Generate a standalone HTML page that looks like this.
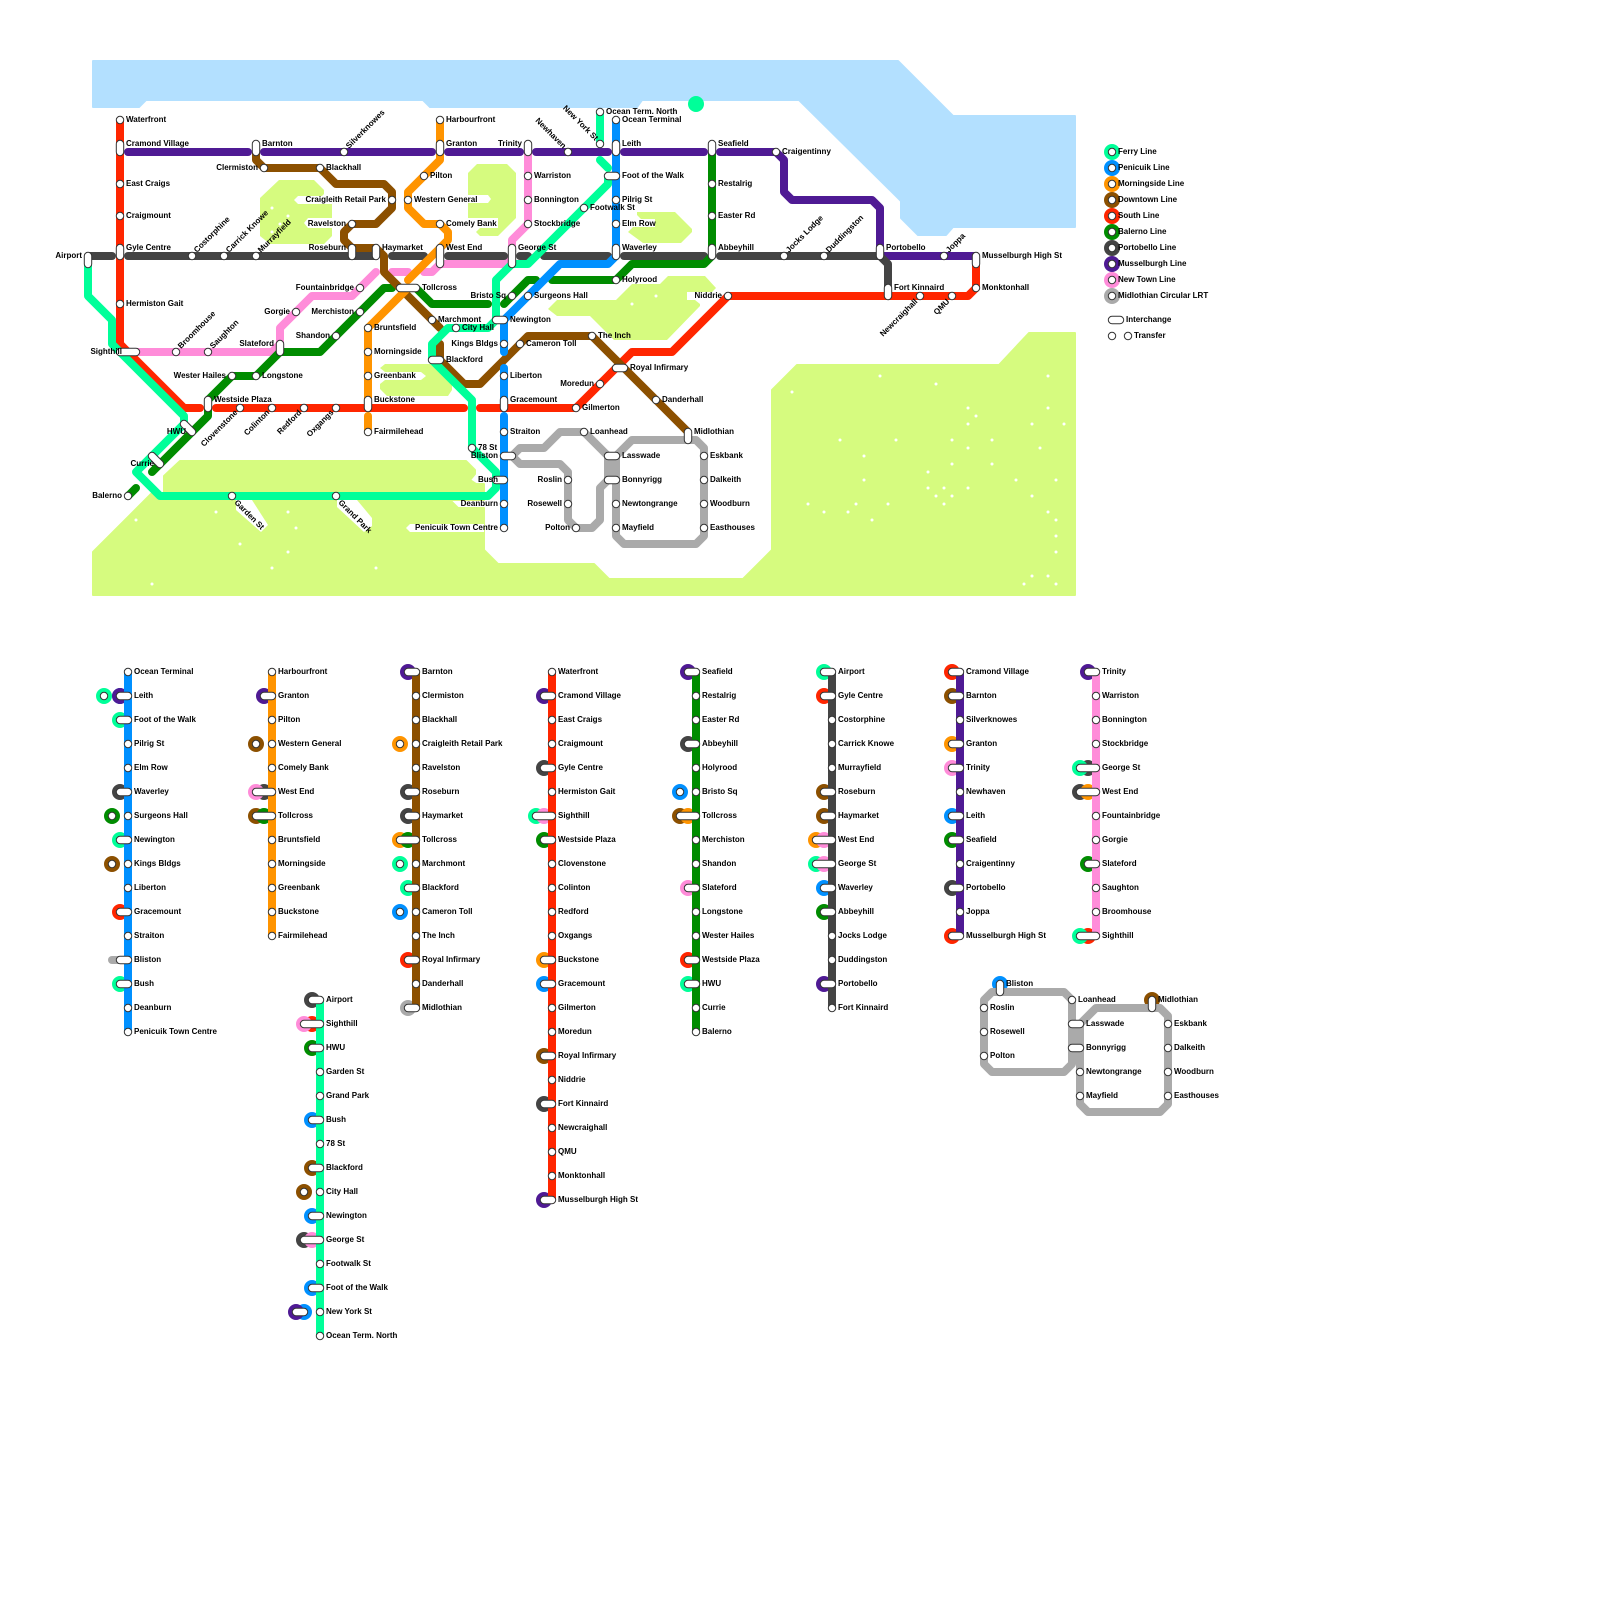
<!DOCTYPE html>
<html><head><meta charset="utf-8"><title>Metro map</title>
<style>
html,body{margin:0;padding:0;background:#fff}
svg{display:block}
text{font:bold 8px "Liberation Sans",Arial,sans-serif;fill:#000}
.l path{fill:none;stroke-width:8;stroke-linecap:round;stroke-linejoin:round}
.f{stroke:#00ff99}.b{stroke:#0090ff}.o{stroke:#ff9400}.d{stroke:#8c5000}.r{stroke:#ff2600}
.g{stroke:#008c00}.k{stroke:#444}.u{stroke:#4f1a94}.n{stroke:#ff8cd9}.m{stroke:#aaa}
.rg path{fill:none;stroke-width:16;stroke-linecap:round}
.s1{fill:none;stroke:#333;stroke-width:8.4;stroke-linecap:round}
.s2{fill:none;stroke:#fff;stroke-width:6.4;stroke-linecap:round}
.e{text-anchor:end}
</style></head><body>
<svg width="1600" height="1600" viewBox="0 0 1600 1600" xmlns="http://www.w3.org/2000/svg">
<rect width="1600" height="1600" fill="#fff"/>
<!-- water -->
<path fill="#b3e0ff" stroke="#b3e0ff" stroke-width="2" stroke-linejoin="round" d="M93 61H898L953 116H1075V227H953L946 235H918L901 218V201L799 100H642L637 107H430L423 100H146L139 107H93Z"/>
<circle cx="696" cy="104" r="8" fill="#00ff99"/>
<!-- land -->
<g fill="#d6fb7f">
<path stroke="#d6fb7f" stroke-width="2" stroke-linejoin="round" d="M93 552L152 493H164V476L180 461H466L475 470V474L470 480L476 484H484V500H450L458 508H484V550L498 564H594L609 579H743L772 550V390L797 365H999L1029 333H1075V595H93Z"/>
<path d="M260 198L279 180H314L324 190V194L322 196H298L294 200L298 204H332V218H308L304 223L308 228H332V236L324 244H270L260 236Z"/>
<path d="M468 173L477 164H507L516 173V218L498 236H480L476 232L480 228H498V218H468V203H488L491 199L488 195H468Z"/>
<path d="M637 212H675L692 229V232L681 243H643L628 232L633 227H655V219H641L637 215Z"/>
<path d="M548 309L557 300H616L632 284H660L668 276H705L716 288L712 292H687V300H695L700 304V306L667 340H614L590 316H557Z"/>
<path d="M380 368L385 364H432L452 384V390L448 396H387L380 389V384L385 380H421L426 376L421 372H385Z"/>
</g>
<g fill="#fff">
<path d="M236 500V510L261 532L268 525L252 500Z"/>
<path d="M337 500V507L364 532L372 526V518L357 500Z"/>
<path d="M406 528L410 524H484V532H410Z"/>
</g>
<path fill="none" stroke="#fff" stroke-width="3" stroke-linecap="round" d="M136 520h.01M216 512h.01M240 544h.01M288 512h.01M296 528h.01M288 552h.01M272 568h.01M376 568h.01M152 584h.01M880 376h.01M936 384h.01M1048 376h.01M792 392h.01M968 408h.01M976 416h.01M968 424h.01M1048 408h.01M1032 424h.01M1064 424h.01M840 440h.01M896 440h.01M952 440h.01M992 440h.01M968 448h.01M1040 448h.01M864 456h.01M952 464h.01M992 464h.01M928 472h.01M864 480h.01M1016 480h.01M1056 480h.01M928 488h.01M944 488h.01M968 488h.01M936 496h.01M952 496h.01M1032 496h.01M808 504h.01M856 504h.01M888 504h.01M944 504h.01M824 512h.01M848 512h.01M1048 512h.01M872 520h.01M1056 520h.01M1056 536h.01M1056 552h.01M1032 576h.01M1048 576h.01M1024 584h.01M1056 584h.01M272 208h.01M288 216h.01M280 224h.01M272 232h.01M632 304h.01M656 296h.01"/>
<!-- main lines -->
<g class="l">
<path class="m" d="M512 456L520 448H544L560 432H584L608 456V480L600 488V520L592 528H576L568 520V472L560 464H520L512 456M616 456L632 440H696L704 448V536L696 544H624L616 536V456"/>
<path class="n" d="M528 152V224L512 240V256L504 264H440L432 272H424M392 272H408M376 272L352 296H312L280 328V344L272 352H128"/>
<path class="u" d="M128 152H248M264 152H432M448 152H520M536 152H608M624 152H704M720 152H776L784 160V192L792 200H872L880 208V256H976"/>
<path class="k" d="M88 256H112M128 256H376M392 256H424M448 256H504M520 256H528M544 256H608M624 256H704M720 256H880L888 264V288"/>
<path class="g" d="M712 152V256L704 264H632L616 280H552M536 280H528L504 304M488 304H432L416 288M392 288H384L360 312L320 352H280L256 376H232L208 400M208 408V416L152 472M136 488L128 496"/>
<path class="r" d="M120 120V344L184 408H200M216 408H464M480 408H576L632 352H672L728 296H968L976 288V256"/>
<path class="d" d="M256 152V160L264 168H320L336 184H384L392 192V208L376 224H352L344 232V240L352 248H376L384 256V272L440 328M440 344V360L464 384H480L528 336H592L688 432"/>
<path class="o" d="M440 120V160L408 192V208L424 224H440L448 232V240L408 280M408 288L368 328V408M368 416V432"/>
<path class="b" d="M616 120V256L608 264H560L504 320V352M504 368V408M504 416V528"/>
<path class="f" d="M88 264V296L112 320V344L184 416V424L136 472L160 496H488L496 488V472L472 448V400L432 360V344L448 328H488L496 320V280L512 264H528L608 184V176M608 168L600 160M600 112V144"/>
</g>
<!-- main stations -->
<path class="s1" d="M120 120h.01M120 144v8M120 184h.01M120 216h.01M120 248v8M120 304h.01M88 256v8M256 144v8M264 168h.01M320 168h.01M344 152h.01M392 200h.01M352 224h.01M352 248v8M376 248v8M192 256h.01M224 256h.01M256 256h.01M360 288h.01M296 312h.01M360 312h.01M336 336h.01M280 344v8M176 352h.01M208 352h.01M120 352h16M232 376h.01M256 376h.01M208 400v8M240 408h.01M272 408h.01M304 408h.01M336 408h.01M184 424l8 8M152 456l8 8M128 496h.01M232 496h.01M336 496h.01M440 120h.01M440 144v8M424 176h.01M408 200h.01M440 224h.01M440 248v16M528 144v8M528 176h.01M528 200h.01M528 224h.01M512 248v16M400 288h16M512 296h.01M528 296h.01M432 320h.01M456 328h.01M496 320h8M504 344h.01M520 344h.01M368 328h.01M368 352h.01M368 376h.01M368 400v8M368 432h.01M432 360h8M504 376h.01M504 400v8M504 432h.01M472 448h.01M504 456h8M496 480h8M504 504h.01M504 528h.01M576 408h.01M600 384h.01M616 368h8M592 336h.01M656 400h.01M584 432h.01M608 456h8M608 480h8M616 504h.01M616 528h.01M568 480h.01M568 504h.01M576 528h.01M688 432v8M704 456h.01M704 480h.01M704 504h.01M704 528h.01M568 152h.01M600 144h.01M600 112h.01M616 120h.01M616 144v8M608 176h8M616 200h.01M616 224h.01M616 248v8M584 208h.01M616 280h.01M728 296h.01M712 144v8M712 184h.01M712 216h.01M712 248v8M776 152h.01M784 256h.01M824 256h.01M880 248v8M944 256h.01M976 256v8M976 288h.01M888 288v8M920 296h.01M952 296h.01"/>
<path class="s2" d="M120 120h.01M120 144v8M120 184h.01M120 216h.01M120 248v8M120 304h.01M88 256v8M256 144v8M264 168h.01M320 168h.01M344 152h.01M392 200h.01M352 224h.01M352 248v8M376 248v8M192 256h.01M224 256h.01M256 256h.01M360 288h.01M296 312h.01M360 312h.01M336 336h.01M280 344v8M176 352h.01M208 352h.01M120 352h16M232 376h.01M256 376h.01M208 400v8M240 408h.01M272 408h.01M304 408h.01M336 408h.01M184 424l8 8M152 456l8 8M128 496h.01M232 496h.01M336 496h.01M440 120h.01M440 144v8M424 176h.01M408 200h.01M440 224h.01M440 248v16M528 144v8M528 176h.01M528 200h.01M528 224h.01M512 248v16M400 288h16M512 296h.01M528 296h.01M432 320h.01M456 328h.01M496 320h8M504 344h.01M520 344h.01M368 328h.01M368 352h.01M368 376h.01M368 400v8M368 432h.01M432 360h8M504 376h.01M504 400v8M504 432h.01M472 448h.01M504 456h8M496 480h8M504 504h.01M504 528h.01M576 408h.01M600 384h.01M616 368h8M592 336h.01M656 400h.01M584 432h.01M608 456h8M608 480h8M616 504h.01M616 528h.01M568 480h.01M568 504h.01M576 528h.01M688 432v8M704 456h.01M704 480h.01M704 504h.01M704 528h.01M568 152h.01M600 144h.01M600 112h.01M616 120h.01M616 144v8M608 176h8M616 200h.01M616 224h.01M616 248v8M584 208h.01M616 280h.01M728 296h.01M712 144v8M712 184h.01M712 216h.01M712 248v8M776 152h.01M784 256h.01M824 256h.01M880 248v8M944 256h.01M976 256v8M976 288h.01M888 288v8M920 296h.01M952 296h.01"/>
<!-- main labels: right -->
<g>
<text x="126" y="122">Waterfront</text><text x="126" y="146">Cramond Village</text><text x="126" y="186">East Craigs</text><text x="126" y="218">Craigmount</text><text x="126" y="250">Gyle Centre</text><text x="126" y="306">Hermiston Gait</text>
<text x="262" y="146">Barnton</text><text x="326" y="170">Blackhall</text><text x="382" y="250">Haymarket</text><text x="262" y="378">Longstone</text><text x="214" y="402">Westside Plaza</text>
<text x="446" y="122">Harbourfront</text><text x="446" y="146">Granton</text><text x="430" y="178">Pilton</text><text x="414" y="202">Western General</text><text x="446" y="226">Comely Bank</text><text x="446" y="250">West End</text>
<text x="534" y="178">Warriston</text><text x="534" y="202">Bonnington</text><text x="534" y="226">Stockbridge</text><text x="518" y="250">George St</text><text x="422" y="290">Tollcross</text><text x="534" y="298">Surgeons Hall</text><text x="438" y="322">Marchmont</text><text x="462" y="330">City Hall</text><text x="510" y="322">Newington</text><text x="526" y="346">Cameron Toll</text>
<text x="374" y="330">Bruntsfield</text><text x="374" y="354">Morningside</text><text x="374" y="378">Greenbank</text><text x="374" y="402">Buckstone</text><text x="374" y="434">Fairmilehead</text><text x="446" y="362">Blackford</text>
<text x="510" y="378">Liberton</text><text x="510" y="402">Gracemount</text><text x="510" y="434">Straiton</text><text x="478" y="450">78 St</text>
<text x="582" y="410">Gilmerton</text><text x="630" y="370">Royal Infirmary</text><text x="598" y="338">The Inch</text><text x="662" y="402">Danderhall</text><text x="590" y="434">Loanhead</text><text x="622" y="458">Lasswade</text><text x="622" y="482">Bonnyrigg</text><text x="622" y="506">Newtongrange</text><text x="622" y="530">Mayfield</text>
<text x="694" y="434">Midlothian</text><text x="710" y="458">Eskbank</text><text x="710" y="482">Dalkeith</text><text x="710" y="506">Woodburn</text><text x="710" y="530">Easthouses</text>
<text x="606" y="114">Ocean Term. North</text><text x="622" y="122">Ocean Terminal</text><text x="622" y="146">Leith</text><text x="622" y="178">Foot of the Walk</text><text x="622" y="202">Pilrig St</text><text x="622" y="226">Elm Row</text><text x="622" y="250">Waverley</text><text x="590" y="210">Footwalk St</text><text x="622" y="282">Holyrood</text>
<text x="718" y="146">Seafield</text><text x="718" y="186">Restalrig</text><text x="718" y="218">Easter Rd</text><text x="718" y="250">Abbeyhill</text><text x="782" y="154">Craigentinny</text><text x="886" y="250">Portobello</text><text x="982" y="258">Musselburgh High St</text><text x="982" y="290">Monktonhall</text><text x="894" y="290">Fort Kinnaird</text>
</g>
<!-- main labels: left -->
<g class="e">
<text class="e" x="82" y="258">Airport</text><text class="e" x="258" y="170">Clermiston</text><text class="e" x="386" y="202">Craigleith Retail Park</text><text class="e" x="346" y="226">Ravelston</text><text class="e" x="346" y="250">Roseburn</text><text class="e" x="354" y="290">Fountainbridge</text><text class="e" x="290" y="314">Gorgie</text><text class="e" x="354" y="314">Merchiston</text><text class="e" x="330" y="338">Shandon</text><text class="e" x="274" y="346">Slateford</text><text class="e" x="122" y="354">Sighthill</text><text class="e" x="226" y="378">Wester Hailes</text><text class="e" x="186" y="434">HWU</text><text class="e" x="154" y="466">Currie</text><text class="e" x="122" y="498">Balerno</text>
<text class="e" x="522" y="146">Trinity</text><text class="e" x="506" y="298">Bristo Sq</text><text class="e" x="498" y="346">Kings Bldgs</text><text class="e" x="498" y="458">Bliston</text><text class="e" x="498" y="482">Bush</text><text class="e" x="498" y="506">Deanburn</text><text class="e" x="498" y="530">Penicuik Town Centre</text>
<text class="e" x="594" y="386">Moredun</text><text class="e" x="562" y="482">Roslin</text><text class="e" x="562" y="506">Rosewell</text><text class="e" x="570" y="530">Polton</text><text class="e" x="722" y="298">Niddrie</text>
</g>
<!-- rotated -->
<text transform="translate(349 149) rotate(-45)">Silverknowes</text>
<text transform="translate(197 253) rotate(-45)">Costorphine</text>
<text transform="translate(229 253) rotate(-45)">Carrick Knowe</text>
<text transform="translate(261 253) rotate(-45)">Murrayfield</text>
<text transform="translate(181 349) rotate(-45)">Broomhouse</text>
<text transform="translate(213 349) rotate(-45)">Saughton</text>
<text transform="translate(789 253) rotate(-45)">Jocks Lodge</text>
<text transform="translate(829 253) rotate(-45)">Duddingston</text>
<text transform="translate(949 253) rotate(-45)">Joppa</text>
<text class="e" transform="translate(238 413) rotate(-45)">Clovenstone</text>
<text class="e" transform="translate(270 413) rotate(-45)">Colinton</text>
<text class="e" transform="translate(302 413) rotate(-45)">Redford</text>
<text class="e" transform="translate(334 413) rotate(-45)">Oxgangs</text>
<text class="e" transform="translate(918 302) rotate(-45)">Newcraighall</text>
<text class="e" transform="translate(950 302) rotate(-45)">QMU</text>
<text transform="translate(234 503) rotate(45)">Garden St</text>
<text transform="translate(338 503) rotate(45)">Grand Park</text>
<text class="e" transform="translate(563 149) rotate(45)">Newhaven</text>
<text class="e" transform="translate(595 141) rotate(45)">New York St</text>
<!-- legend -->
<g class="rg">
<path class="f" d="M1112 152h.01"/><path class="b" d="M1112 168h.01"/><path class="o" d="M1112 184h.01"/><path class="d" d="M1112 200h.01"/><path class="r" d="M1112 216h.01"/><path class="g" d="M1112 232h.01"/><path class="k" d="M1112 248h.01"/><path class="u" d="M1112 264h.01"/><path class="n" d="M1112 280h.01"/><path class="m" d="M1112 296h.01"/>
</g>
<path class="s1" d="M1112 152h.01M1112 168h.01M1112 184h.01M1112 200h.01M1112 216h.01M1112 232h.01M1112 248h.01M1112 264h.01M1112 280h.01M1112 296h.01M1112 320h8M1112 336h.01M1128 336h.01"/>
<path class="s2" d="M1112 152h.01M1112 168h.01M1112 184h.01M1112 200h.01M1112 216h.01M1112 232h.01M1112 248h.01M1112 264h.01M1112 280h.01M1112 296h.01M1112 320h8M1112 336h.01M1128 336h.01"/>
<text x="1118" y="154">Ferry Line</text><text x="1118" y="170">Penicuik Line</text><text x="1118" y="186">Morningside Line</text><text x="1118" y="202">Downtown Line</text><text x="1118" y="218">South Line</text><text x="1118" y="234">Balerno Line</text><text x="1118" y="250">Portobello Line</text><text x="1118" y="266">Musselburgh Line</text><text x="1118" y="282">New Town Line</text><text x="1118" y="298">Midlothian Circular LRT</text>
<text x="1126" y="322">Interchange</text><text x="1134" y="338">Transfer</text>
<!-- line diagrams rings -->
<g class="rg">
<path class="r" d="M120 912h.01M312 1024h.01M688 960h.01M824 696h.01M952 672h.01M952 936h.01M408 960h.01M1088 936h.01"/>
<path class="d" d="M112 864h.01M256 744h.01M256 816h.01M304 1192h.01M312 1168h.01M544 1056h.01M680 816h.01M824 792h.01M824 816h.01M952 696h.01M1152 1000h.01"/>
<path class="k" d="M120 792h.01M264 792h.01M408 792h.01M408 816h.01M312 1000h.01M304 1240h.01M544 768h.01M544 1104h.01M688 744h.01M952 888h.01M1088 768h.01M1080 792h.01"/>
<path class="b" d="M400 912h.01M312 1120h.01M312 1216h.01M312 1288h.01M304 1312h.01M544 984h.01M680 792h.01M824 888h.01M952 816h.01M1000 984h.01M120 696h0"/>
<path class="u" d="M120 696h.01M264 696h.01M408 672h.01M296 1312h.01M544 696h.01M544 1200h.01M688 672h.01M824 984h.01M1088 672h.01"/>
<path class="o" d="M400 744h.01M400 840h.01M544 960h.01M688 816h.01M816 840h.01M952 744h.01M1088 792h.01"/>
<path class="f" d="M104 696h.01M120 720h.01M120 840h.01M120 984h.01M400 864h.01M408 888h.01M536 816h.01M688 984h.01M824 672h.01M816 864h.01M1080 768h.01M1080 936h.01"/>
<path class="g" d="M112 816h.01M264 816h.01M408 840h.01M312 1048h.01M544 840h.01M824 912h.01M952 840h.01M1088 864h.01"/>
<path class="n" d="M256 792h.01M304 1024h.01M312 1240h.01M544 816h.01M688 888h.01M824 840h.01M824 864h.01M952 768h.01"/>
<path class="m" d="M408 1008h.01"/>
</g>
<g class="l">
<path class="m" d="M112 960h8"/>
<path class="b" d="M128 672V1032"/>
<path class="o" d="M272 672V936"/>
<path class="d" d="M416 672V1008"/>
<path class="f" d="M320 1000V1336"/>
<path class="r" d="M552 672V1200"/>
<path class="g" d="M696 672V1032"/>
<path class="k" d="M832 672V1008"/>
<path class="u" d="M960 672V936"/>
<path class="n" d="M1096 672V936"/>
<path class="m" d="M1000 992H992L984 1000V1064L992 1072H1064L1072 1064V1000L1064 992H1000M1080 1024L1096 1008H1160L1168 1016V1104L1160 1112H1088L1080 1104V1024M1072 1024H1080M1072 1048H1080M1076 1024V1060"/>
</g>
<!-- line diagram stations -->
<path class="s1" d="M128 672h.01M104 696h.01M120 696h8M120 720h8M128 744h.01M128 768h.01M120 792h8M112 816h.01M128 816h.01M120 840h8M112 864h.01M128 864h.01M128 888h.01M120 912h8M128 936h.01M120 960h8M120 984h8M128 1008h.01M128 1032h.01M272 672h.01M264 696h8M272 720h.01M256 744h.01M272 744h.01M272 768h.01M256 792h16M256 816h16M272 840h.01M272 864h.01M272 888h.01M272 912h.01M272 936h.01M408 672h8M416 696h.01M416 720h.01M400 744h.01M416 744h.01M416 768h.01M408 792h8M408 816h8M400 840h16M400 864h.01M416 864h.01M408 888h8M400 912h.01M416 912h.01M416 936h.01M408 960h8M416 984h.01M408 1008h8M312 1000h8M304 1024h16M312 1048h8M320 1072h.01M320 1096h.01M312 1120h8M320 1144h.01M312 1168h8M304 1192h.01M320 1192h.01M312 1216h8M304 1240h16M320 1264h.01M312 1288h8M296 1312h8M320 1312h.01M320 1336h.01M552 672h.01M544 696h8M552 720h.01M552 744h.01M544 768h8M552 792h.01M536 816h16M544 840h8M552 864h.01M552 888h.01M552 912h.01M552 936h.01M544 960h8M544 984h8M552 1008h.01M552 1032h.01M544 1056h8M552 1080h.01M544 1104h8M552 1128h.01M552 1152h.01M552 1176h.01M544 1200h8M688 672h8M696 696h.01M696 720h.01M688 744h8M696 768h.01M680 792h.01M696 792h.01M680 816h16M696 840h.01M696 864h.01M688 888h8M696 912h.01M696 936h.01M688 960h8M688 984h8M696 1008h.01M696 1032h.01M824 672h8M824 696h8M832 720h.01M832 744h.01M832 768h.01M824 792h8M824 816h8M816 840h16M816 864h16M824 888h8M824 912h8M832 936h.01M832 960h.01M824 984h8M832 1008h.01M952 672h8M952 696h8M960 720h.01M952 744h8M952 768h8M960 792h.01M952 816h8M952 840h8M960 864h.01M952 888h8M960 912h.01M952 936h8M1088 672h8M1096 696h.01M1096 720h.01M1096 744h.01M1080 768h16M1080 792h16M1096 816h.01M1096 840h.01M1088 864h8M1096 888h.01M1096 912h.01M1080 936h16M1000 984v8M984 1008h.01M984 1032h.01M984 1056h.01M1072 1000h.01M1072 1024h8M1072 1048h8M1080 1072h.01M1080 1096h.01M1152 1000v8M1168 1024h.01M1168 1048h.01M1168 1072h.01M1168 1096h.01"/>
<path class="s2" d="M128 672h.01M104 696h.01M120 696h8M120 720h8M128 744h.01M128 768h.01M120 792h8M112 816h.01M128 816h.01M120 840h8M112 864h.01M128 864h.01M128 888h.01M120 912h8M128 936h.01M120 960h8M120 984h8M128 1008h.01M128 1032h.01M272 672h.01M264 696h8M272 720h.01M256 744h.01M272 744h.01M272 768h.01M256 792h16M256 816h16M272 840h.01M272 864h.01M272 888h.01M272 912h.01M272 936h.01M408 672h8M416 696h.01M416 720h.01M400 744h.01M416 744h.01M416 768h.01M408 792h8M408 816h8M400 840h16M400 864h.01M416 864h.01M408 888h8M400 912h.01M416 912h.01M416 936h.01M408 960h8M416 984h.01M408 1008h8M312 1000h8M304 1024h16M312 1048h8M320 1072h.01M320 1096h.01M312 1120h8M320 1144h.01M312 1168h8M304 1192h.01M320 1192h.01M312 1216h8M304 1240h16M320 1264h.01M312 1288h8M296 1312h8M320 1312h.01M320 1336h.01M552 672h.01M544 696h8M552 720h.01M552 744h.01M544 768h8M552 792h.01M536 816h16M544 840h8M552 864h.01M552 888h.01M552 912h.01M552 936h.01M544 960h8M544 984h8M552 1008h.01M552 1032h.01M544 1056h8M552 1080h.01M544 1104h8M552 1128h.01M552 1152h.01M552 1176h.01M544 1200h8M688 672h8M696 696h.01M696 720h.01M688 744h8M696 768h.01M680 792h.01M696 792h.01M680 816h16M696 840h.01M696 864h.01M688 888h8M696 912h.01M696 936h.01M688 960h8M688 984h8M696 1008h.01M696 1032h.01M824 672h8M824 696h8M832 720h.01M832 744h.01M832 768h.01M824 792h8M824 816h8M816 840h16M816 864h16M824 888h8M824 912h8M832 936h.01M832 960h.01M824 984h8M832 1008h.01M952 672h8M952 696h8M960 720h.01M952 744h8M952 768h8M960 792h.01M952 816h8M952 840h8M960 864h.01M952 888h8M960 912h.01M952 936h8M1088 672h8M1096 696h.01M1096 720h.01M1096 744h.01M1080 768h16M1080 792h16M1096 816h.01M1096 840h.01M1088 864h8M1096 888h.01M1096 912h.01M1080 936h16M1000 984v8M984 1008h.01M984 1032h.01M984 1056h.01M1072 1000h.01M1072 1024h8M1072 1048h8M1080 1072h.01M1080 1096h.01M1152 1000v8M1168 1024h.01M1168 1048h.01M1168 1072h.01M1168 1096h.01"/>
<!-- list labels -->
<text x="134" y="674">Ocean Terminal</text><text x="134" y="698">Leith</text><text x="134" y="722">Foot of the Walk</text><text x="134" y="746">Pilrig St</text><text x="134" y="770">Elm Row</text><text x="134" y="794">Waverley</text><text x="134" y="818">Surgeons Hall</text><text x="134" y="842">Newington</text><text x="134" y="866">Kings Bldgs</text><text x="134" y="890">Liberton</text><text x="134" y="914">Gracemount</text><text x="134" y="938">Straiton</text><text x="134" y="962">Bliston</text><text x="134" y="986">Bush</text><text x="134" y="1010">Deanburn</text><text x="134" y="1034">Penicuik Town Centre</text>
<text x="278" y="674">Harbourfront</text><text x="278" y="698">Granton</text><text x="278" y="722">Pilton</text><text x="278" y="746">Western General</text><text x="278" y="770">Comely Bank</text><text x="278" y="794">West End</text><text x="278" y="818">Tollcross</text><text x="278" y="842">Bruntsfield</text><text x="278" y="866">Morningside</text><text x="278" y="890">Greenbank</text><text x="278" y="914">Buckstone</text><text x="278" y="938">Fairmilehead</text>
<text x="422" y="674">Barnton</text><text x="422" y="698">Clermiston</text><text x="422" y="722">Blackhall</text><text x="422" y="746">Craigleith Retail Park</text><text x="422" y="770">Ravelston</text><text x="422" y="794">Roseburn</text><text x="422" y="818">Haymarket</text><text x="422" y="842">Tollcross</text><text x="422" y="866">Marchmont</text><text x="422" y="890">Blackford</text><text x="422" y="914">Cameron Toll</text><text x="422" y="938">The Inch</text><text x="422" y="962">Royal Infirmary</text><text x="422" y="986">Danderhall</text><text x="422" y="1010">Midlothian</text>
<text x="326" y="1002">Airport</text><text x="326" y="1026">Sighthill</text><text x="326" y="1050">HWU</text><text x="326" y="1074">Garden St</text><text x="326" y="1098">Grand Park</text><text x="326" y="1122">Bush</text><text x="326" y="1146">78 St</text><text x="326" y="1170">Blackford</text><text x="326" y="1194">City Hall</text><text x="326" y="1218">Newington</text><text x="326" y="1242">George St</text><text x="326" y="1266">Footwalk St</text><text x="326" y="1290">Foot of the Walk</text><text x="326" y="1314">New York St</text><text x="326" y="1338">Ocean Term. North</text>
<text x="558" y="674">Waterfront</text><text x="558" y="698">Cramond Village</text><text x="558" y="722">East Craigs</text><text x="558" y="746">Craigmount</text><text x="558" y="770">Gyle Centre</text><text x="558" y="794">Hermiston Gait</text><text x="558" y="818">Sighthill</text><text x="558" y="842">Westside Plaza</text><text x="558" y="866">Clovenstone</text><text x="558" y="890">Colinton</text><text x="558" y="914">Redford</text><text x="558" y="938">Oxgangs</text><text x="558" y="962">Buckstone</text><text x="558" y="986">Gracemount</text><text x="558" y="1010">Gilmerton</text><text x="558" y="1034">Moredun</text><text x="558" y="1058">Royal Infirmary</text><text x="558" y="1082">Niddrie</text><text x="558" y="1106">Fort Kinnaird</text><text x="558" y="1130">Newcraighall</text><text x="558" y="1154">QMU</text><text x="558" y="1178">Monktonhall</text><text x="558" y="1202">Musselburgh High St</text>
<text x="702" y="674">Seafield</text><text x="702" y="698">Restalrig</text><text x="702" y="722">Easter Rd</text><text x="702" y="746">Abbeyhill</text><text x="702" y="770">Holyrood</text><text x="702" y="794">Bristo Sq</text><text x="702" y="818">Tollcross</text><text x="702" y="842">Merchiston</text><text x="702" y="866">Shandon</text><text x="702" y="890">Slateford</text><text x="702" y="914">Longstone</text><text x="702" y="938">Wester Hailes</text><text x="702" y="962">Westside Plaza</text><text x="702" y="986">HWU</text><text x="702" y="1010">Currie</text><text x="702" y="1034">Balerno</text>
<text x="838" y="674">Airport</text><text x="838" y="698">Gyle Centre</text><text x="838" y="722">Costorphine</text><text x="838" y="746">Carrick Knowe</text><text x="838" y="770">Murrayfield</text><text x="838" y="794">Roseburn</text><text x="838" y="818">Haymarket</text><text x="838" y="842">West End</text><text x="838" y="866">George St</text><text x="838" y="890">Waverley</text><text x="838" y="914">Abbeyhill</text><text x="838" y="938">Jocks Lodge</text><text x="838" y="962">Duddingston</text><text x="838" y="986">Portobello</text><text x="838" y="1010">Fort Kinnaird</text>
<text x="966" y="674">Cramond Village</text><text x="966" y="698">Barnton</text><text x="966" y="722">Silverknowes</text><text x="966" y="746">Granton</text><text x="966" y="770">Trinity</text><text x="966" y="794">Newhaven</text><text x="966" y="818">Leith</text><text x="966" y="842">Seafield</text><text x="966" y="866">Craigentinny</text><text x="966" y="890">Portobello</text><text x="966" y="914">Joppa</text><text x="966" y="938">Musselburgh High St</text>
<text x="1102" y="674">Trinity</text><text x="1102" y="698">Warriston</text><text x="1102" y="722">Bonnington</text><text x="1102" y="746">Stockbridge</text><text x="1102" y="770">George St</text><text x="1102" y="794">West End</text><text x="1102" y="818">Fountainbridge</text><text x="1102" y="842">Gorgie</text><text x="1102" y="866">Slateford</text><text x="1102" y="890">Saughton</text><text x="1102" y="914">Broomhouse</text><text x="1102" y="938">Sighthill</text>
<text x="1006" y="986">Bliston</text><text x="990" y="1010">Roslin</text><text x="990" y="1034">Rosewell</text><text x="990" y="1058">Polton</text><text x="1078" y="1002">Loanhead</text><text x="1086" y="1026">Lasswade</text><text x="1086" y="1050">Bonnyrigg</text><text x="1086" y="1074">Newtongrange</text><text x="1086" y="1098">Mayfield</text><text x="1158" y="1002">Midlothian</text><text x="1174" y="1026">Eskbank</text><text x="1174" y="1050">Dalkeith</text><text x="1174" y="1074">Woodburn</text><text x="1174" y="1098">Easthouses</text>
</svg>
</body></html>
